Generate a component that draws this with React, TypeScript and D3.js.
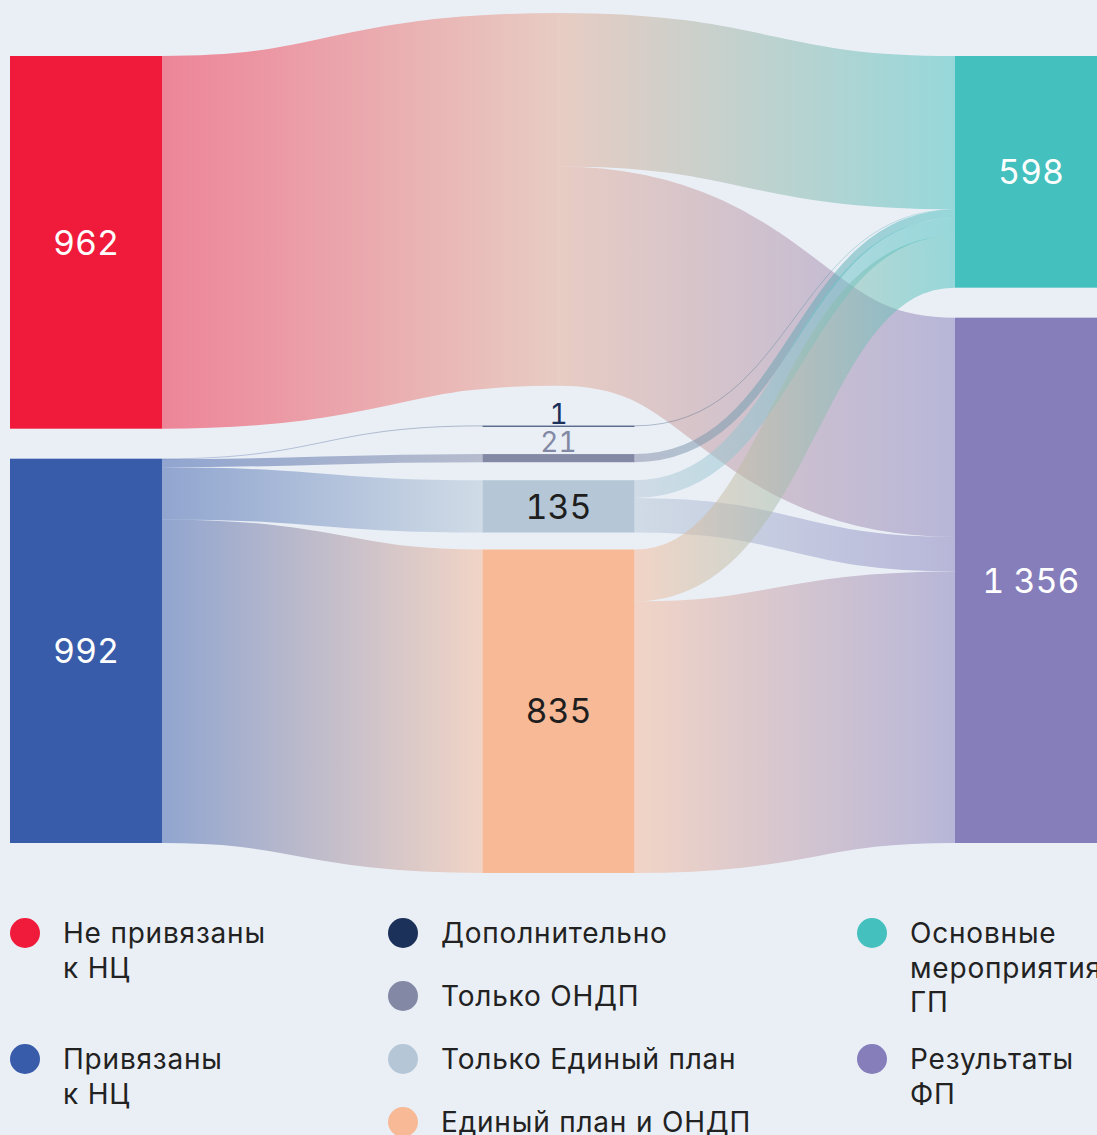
import React from 'react';
import * as d3 from 'd3';

// ---- Data ----
const nodeIds = ['nc_no', 'nc_yes', 'pass', 'extra', 'ondp', 'plan', 'plan_ondp', 'gp', 'fp'];
const nodeNames = [
  'Не привязаны к НЦ',
  'Привязаны к НЦ',
  '',
  'Дополнительно',
  'Только ОНДП',
  'Только Единый план',
  'Единый план и ОНДП',
  'Основные мероприятия ГП',
  'Результаты ФП',
];
const nodeColumns = [0, 0, 1, 1, 1, 1, 1, 2, 2];

const linkSources = ['nc_no', 'nc_yes', 'nc_yes', 'nc_yes', 'nc_yes', 'pass', 'pass', 'extra', 'ondp', 'plan', 'plan', 'plan_ondp', 'plan_ondp'];
const linkTargets = ['pass', 'extra', 'ondp', 'plan', 'plan_ondp', 'gp', 'fp', 'gp', 'gp', 'gp', 'fp', 'gp', 'fp'];
const linkValues = [962, 1, 21, 135, 835, 396, 566, 1, 21, 46, 89, 134, 701];

const legendLabels = [
  ['Не привязаны', 'к НЦ'],
  ['Привязаны', 'к НЦ'],
  ['Дополнительно'],
  ['Только ОНДП'],
  ['Только Единый план'],
  ['Единый план и ОНДП'],
  ['Основные', 'мероприятия', 'ГП'],
  ['Результаты', 'ФП'],
];
const legendNodeIds = ['nc_no', 'nc_yes', 'extra', 'ondp', 'plan', 'plan_ondp', 'gp', 'fp'];
const legendColumns = [0, 0, 1, 1, 1, 1, 2, 2];

// ---- Styles ----
const nodeColors: Record<string, string> = {
  nc_no: '#F01B3B',
  nc_yes: '#385CA9',
  pass: '#E5A990',
  extra: '#1B3159',
  ondp: '#8389A5',
  plan: '#B5C7D6',
  plan_ondp: '#F8B996',
  gp: '#44C0BE',
  fp: '#857EBB',
};
const BG = '#EAEFF6';
const W = 1097;
const H = 1135;
const NODE_W = 152;
const FONT = 'Inter, "Noto Sans", Roboto, sans-serif';

// layout params
const columnTop = [56, 13, 56];
const columnGaps = [[30], [40, 28, 18, 17], [30]];

export default function App() {
  const total = d3.sum(nodeIds.filter((_, i) => nodeColumns[i] === 0).map((id) =>
    d3.sum(linkValues.filter((_, j) => linkSources[j] === id))));
  const k = d3.scaleLinear().domain([0, total]).range([0, 757]);
  const xCol = d3.scaleLinear().domain([0, 2]).range([10, 955]);

  type N = { id: string; name: string; col: number; value: number; x0: number; x1: number; y0: number; y1: number };
  const nodes: N[] = nodeIds.map((id, i) => {
    const inV = d3.sum(linkValues.filter((_, j) => linkTargets[j] === id));
    const outV = d3.sum(linkValues.filter((_, j) => linkSources[j] === id));
    const col = nodeColumns[i];
    const isPass = id === 'pass';
    const x0 = isPass ? xCol(col) + NODE_W / 2 : xCol(col);
    return { id, name: nodeNames[i], col, value: Math.max(inV, outV), x0, x1: isPass ? x0 : x0 + NODE_W, y0: 0, y1: 0 };
  });
  const byId = new Map(nodes.map((n) => [n.id, n]));
  [0, 1, 2].forEach((c) => {
    let y = columnTop[c];
    nodes.filter((n) => n.col === c).forEach((n, idx) => {
      if (idx > 0) y += columnGaps[c][idx - 1] ?? 30;
      n.y0 = y;
      n.y1 = y + k(n.value);
      y = n.y1;
    });
  });

  const links = linkValues.map((v, j) => ({
    source: byId.get(linkSources[j])!,
    target: byId.get(linkTargets[j])!,
    value: v,
    width: k(v),
    sy: 0,
    ty: 0,
    idx: j,
  }));
  nodes.forEach((n) => {
    let off = n.y0;
    links.filter((l) => l.source === n).sort((a, b) => a.target.y0 - b.target.y0).forEach((l) => {
      l.sy = off + l.width / 2;
      off += l.width;
    });
    off = n.y0;
    links.filter((l) => l.target === n).sort((a, b) => a.source.y0 - b.source.y0).forEach((l) => {
      l.ty = off + l.width / 2;
      off += l.width;
    });
  });

  const linkGen = d3.linkHorizontal<any, [number, number]>().source((d: any) => d[0]).target((d: any) => d[1]);
  const fmt = d3.formatLocale({ decimal: ',', thousands: ' ', grouping: [3], currency: ['', ''] }).format(',d');

  // legend slots
  const legendItems: { x: number; y: number; color: string; lines: string[] }[] = [];
  const colCircleX = [25, 403, 872];
  const slotCount = [0, 0, 0];
  legendLabels.forEach((lines, i) => {
    const c = legendColumns[i];
    const y = 933 + slotCount[c] * 63;
    slotCount[c] += lines.length > 1 ? 2 : 1;
    legendItems.push({ x: colCircleX[c], y, color: nodeColors[legendNodeIds[i]], lines });
  });

  const numStyle: React.CSSProperties = { fontVariantNumeric: 'tabular-nums', fontFeatureSettings: '"tnum" 1' };

  return (
    <svg width={W} height={H} style={{ position: 'absolute', left: 0, top: 0, display: 'block' }} fontFamily={FONT}>
      <defs>
        {links.map((l) => (
          <linearGradient key={l.idx} id={`g${l.idx}`} gradientUnits="userSpaceOnUse" x1={l.source.x1} x2={l.target.x0} y1={0} y2={0}>
            <stop offset="0%" stopColor={nodeColors[l.source.id]} />
            <stop offset="100%" stopColor={nodeColors[l.target.id]} />
          </linearGradient>
        ))}
      </defs>
      <rect x={0} y={0} width={W} height={H} fill={BG} />
      <g fill="none">
        {links.map((l) => (
          <path
            key={l.idx}
            d={linkGen([[l.source.x1, l.sy], [l.target.x0, l.ty]] as any) || ''}
            stroke={`url(#g${l.idx})`}
            strokeOpacity={0.5}
            strokeWidth={Math.max(l.width, 0.6)}
          />
        ))}
      </g>
      <g>
        {nodes.filter((n) => n.id !== 'pass').map((n) => (
          <rect key={n.id} x={n.x0} y={n.y0} width={n.x1 - n.x0} height={Math.max(n.y1 - n.y0, 1)} fill={nodeColors[n.id]} />
        ))}
      </g>
      <g style={numStyle}>
        {nodes.filter((n) => n.id !== 'pass').map((n) => {
          const h = n.y1 - n.y0;
          const cx = (n.x0 + n.x1) / 2;
          if (h < 30) {
            return (
              <text key={n.id} x={cx} y={n.y0 - 2} textAnchor="middle" fontSize={28} fill={nodeColors[n.id]}>
                {fmt(n.value)}
              </text>
            );
          }
          return (
            <text key={n.id} x={cx} y={(n.y0 + n.y1) / 2} dy="0.36em" textAnchor="middle" fontSize={34}
              fill={n.col === 1 ? '#1E1E1E' : '#FFFFFF'}>
              {fmt(n.value)}
            </text>
          );
        })}
      </g>
      <g>
        {legendItems.map((it, i) => (
          <g key={i}>
            <circle cx={it.x} cy={it.y} r={15} fill={it.color} />
            <text x={it.x + 38} y={it.y + 10} fontSize={28} letterSpacing={0.8} fill="#222222">
              {it.lines.map((ln, j) => (
                <tspan key={j} x={it.x + 38} dy={j === 0 ? 0 : 34.5}>{ln}</tspan>
              ))}
            </text>
          </g>
        ))}
      </g>
    </svg>
  );
}
